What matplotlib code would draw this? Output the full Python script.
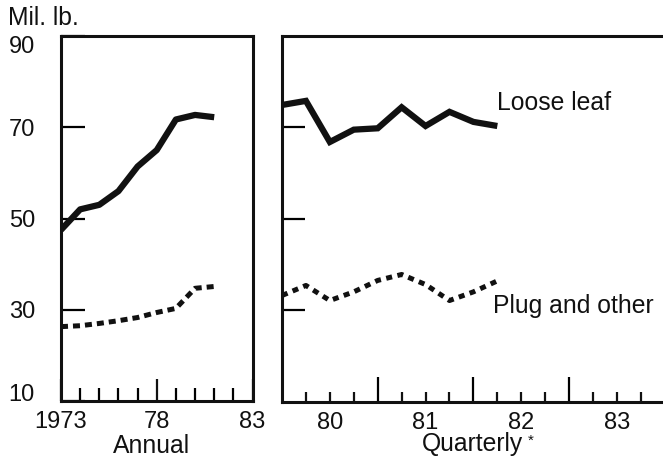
import matplotlib
matplotlib.use("Agg")
import matplotlib.pyplot as plt

# ---- data ----
annual_years = [1973, 1974, 1975, 1976, 1977, 1978, 1979, 1980, 1981]
annual_loose_leaf = [47.5, 52.0, 53.0, 56.0, 61.4, 65.0, 71.7, 72.7, 72.2]
annual_plug_other = [26.3, 26.5, 27.0, 27.6, 28.3, 29.4, 30.3, 34.7, 35.1]

quarter_pos = [1979.50, 1979.75, 1980.00, 1980.25, 1980.50,
               1980.75, 1981.00, 1981.25, 1981.50, 1981.75]
quarterly_loose_leaf = [74.9, 75.8, 66.8, 69.5, 69.8, 74.4, 70.3, 73.4, 71.2, 70.3]
quarterly_plug_other = [33.2, 35.4, 32.1, 34.0, 36.5, 37.8, 35.6, 32.1, 34.0, 36.4]

y_ticks = [10, 30, 50, 70, 90]
y_ticklabels = ["10", "30", "50", "70", "90"]
annual_major = [1973, 1978, 1983]
annual_major_labels = ["1973", "78", "83"]
quarter_label_years = [1980, 1981, 1982, 1983]
quarter_labels = ["80", "81", "82", "83"]

plt.rcParams['font.family'] = ['Liberation Sans', 'DejaVu Sans']
FS = 17
FSW = 17.8
INK = "#111111"

W, H = 663, 459
fig = plt.figure(figsize=(W / 100, H / 100), dpi=100)
fig.patch.set_facecolor("white")

axL = fig.add_axes([61 / W, 1 - 401 / H, (252.5 - 61) / W, (401 - 36) / H])
axR = fig.add_axes([282 / W, 1 - 401.5 / H, 387.6 / W, (401.5 - 36) / H])

for ax in (axL, axR):
    ax.set_ylim(10, 90)
    for s in ax.spines.values():
        s.set_linewidth(2.2)
        s.set_color(INK)

# ---- left (annual) panel ----
axL.set_xlim(1973, 1983)
axL.plot(annual_years, annual_loose_leaf, color=INK, lw=4.5,
         solid_capstyle="butt", solid_joinstyle="round")
axL.plot(annual_years, annual_plug_other, color=INK, lw=3.6,
         dashes=(1.4, 1.0), dash_capstyle="butt")
axL.set_xticks(annual_major, annual_major_labels)
axL.set_xticks([y for y in range(1974, 1983) if y != 1978], minor=True)
axL.tick_params(axis="x", which="major", direction="in", length=16, width=1.6,
                pad=7.5, labelsize=FS, colors=INK)
axL.tick_params(axis="x", which="minor", direction="in", length=9.5, width=1.6)
axL.set_yticks(y_ticks)
axL.set_yticklabels([])
axL.tick_params(axis="y", which="major", direction="in", length=17, width=1.6)
axL.tick_params(axis="y", which="minor", length=0)

ytr = axL.get_yaxis_transform()
for v, lab in zip(y_ticks, y_ticklabels):
    if v == 10:
        va = "baseline"
    elif v == 90:
        va = "top"
    else:
        va = "center_baseline"
    axL.text(-26 / 191.5, v, lab, transform=ytr, ha="right", va=va,
             fontsize=FS, color=INK, clip_on=False)

# ---- right (quarterly) panel ----
axR.set_xlim(1979.5, 1983.55)
axR.spines["right"].set_visible(False)
axR.plot(quarter_pos, quarterly_loose_leaf, color=INK, lw=4.5,
         solid_capstyle="butt", solid_joinstyle="miter")
axR.plot(quarter_pos, quarterly_plug_other, color=INK, lw=3.6,
         dashes=(1.2, 1.1), dash_capstyle="butt")

major_q = [1980.5, 1981.5, 1982.5]
minor_q = [1979.75, 1980.0, 1980.25, 1980.75, 1981.0, 1981.25,
           1981.75, 1982.0, 1982.25, 1982.75, 1983.0, 1983.25]
minor_labels = []
for q in minor_q:
    lab = ""
    for yv, yl in zip(quarter_label_years, quarter_labels):
        if abs(q - yv) < 1e-9:
            lab = yl
    minor_labels.append(lab)
axR.set_xticks(major_q, [""] * len(major_q))
axR.set_xticks(minor_q, minor_labels, minor=True)
axR.tick_params(axis="x", which="major", direction="in", length=18, width=1.6)
axR.tick_params(axis="x", which="minor", direction="in", length=7.5, width=1.6,
                pad=7.5, labelsize=FS, colors=INK)
axR.set_yticks([30, 50, 70])
axR.set_yticklabels([])
axR.tick_params(axis="y", which="major", direction="in", length=16.5, width=1.6)
axR.tick_params(axis="y", which="minor", length=0)

# ---- texts ----
def ftext(xp, yp, s, **kw):
    fig.text(xp / W, 1 - yp / H, s, fontsize=kw.pop("fontsize", FSW),
             color=INK, **kw)

ftext(8, 25, "Mil. lb.", ha="left", va="baseline")
ftext(497, 110, "Loose leaf", ha="left", va="baseline")
ftext(493, 312.5, "Plug and other", ha="left", va="baseline")
ftext(152, 453, "Annual", ha="center", va="baseline")
ftext(421.5, 451.5, "Quarterly", ha="left", va="baseline")
ftext(527.5, 445, "*", ha="left", va="baseline", fontsize=11)

fig.savefig("out.png", dpi=100, facecolor="white")
